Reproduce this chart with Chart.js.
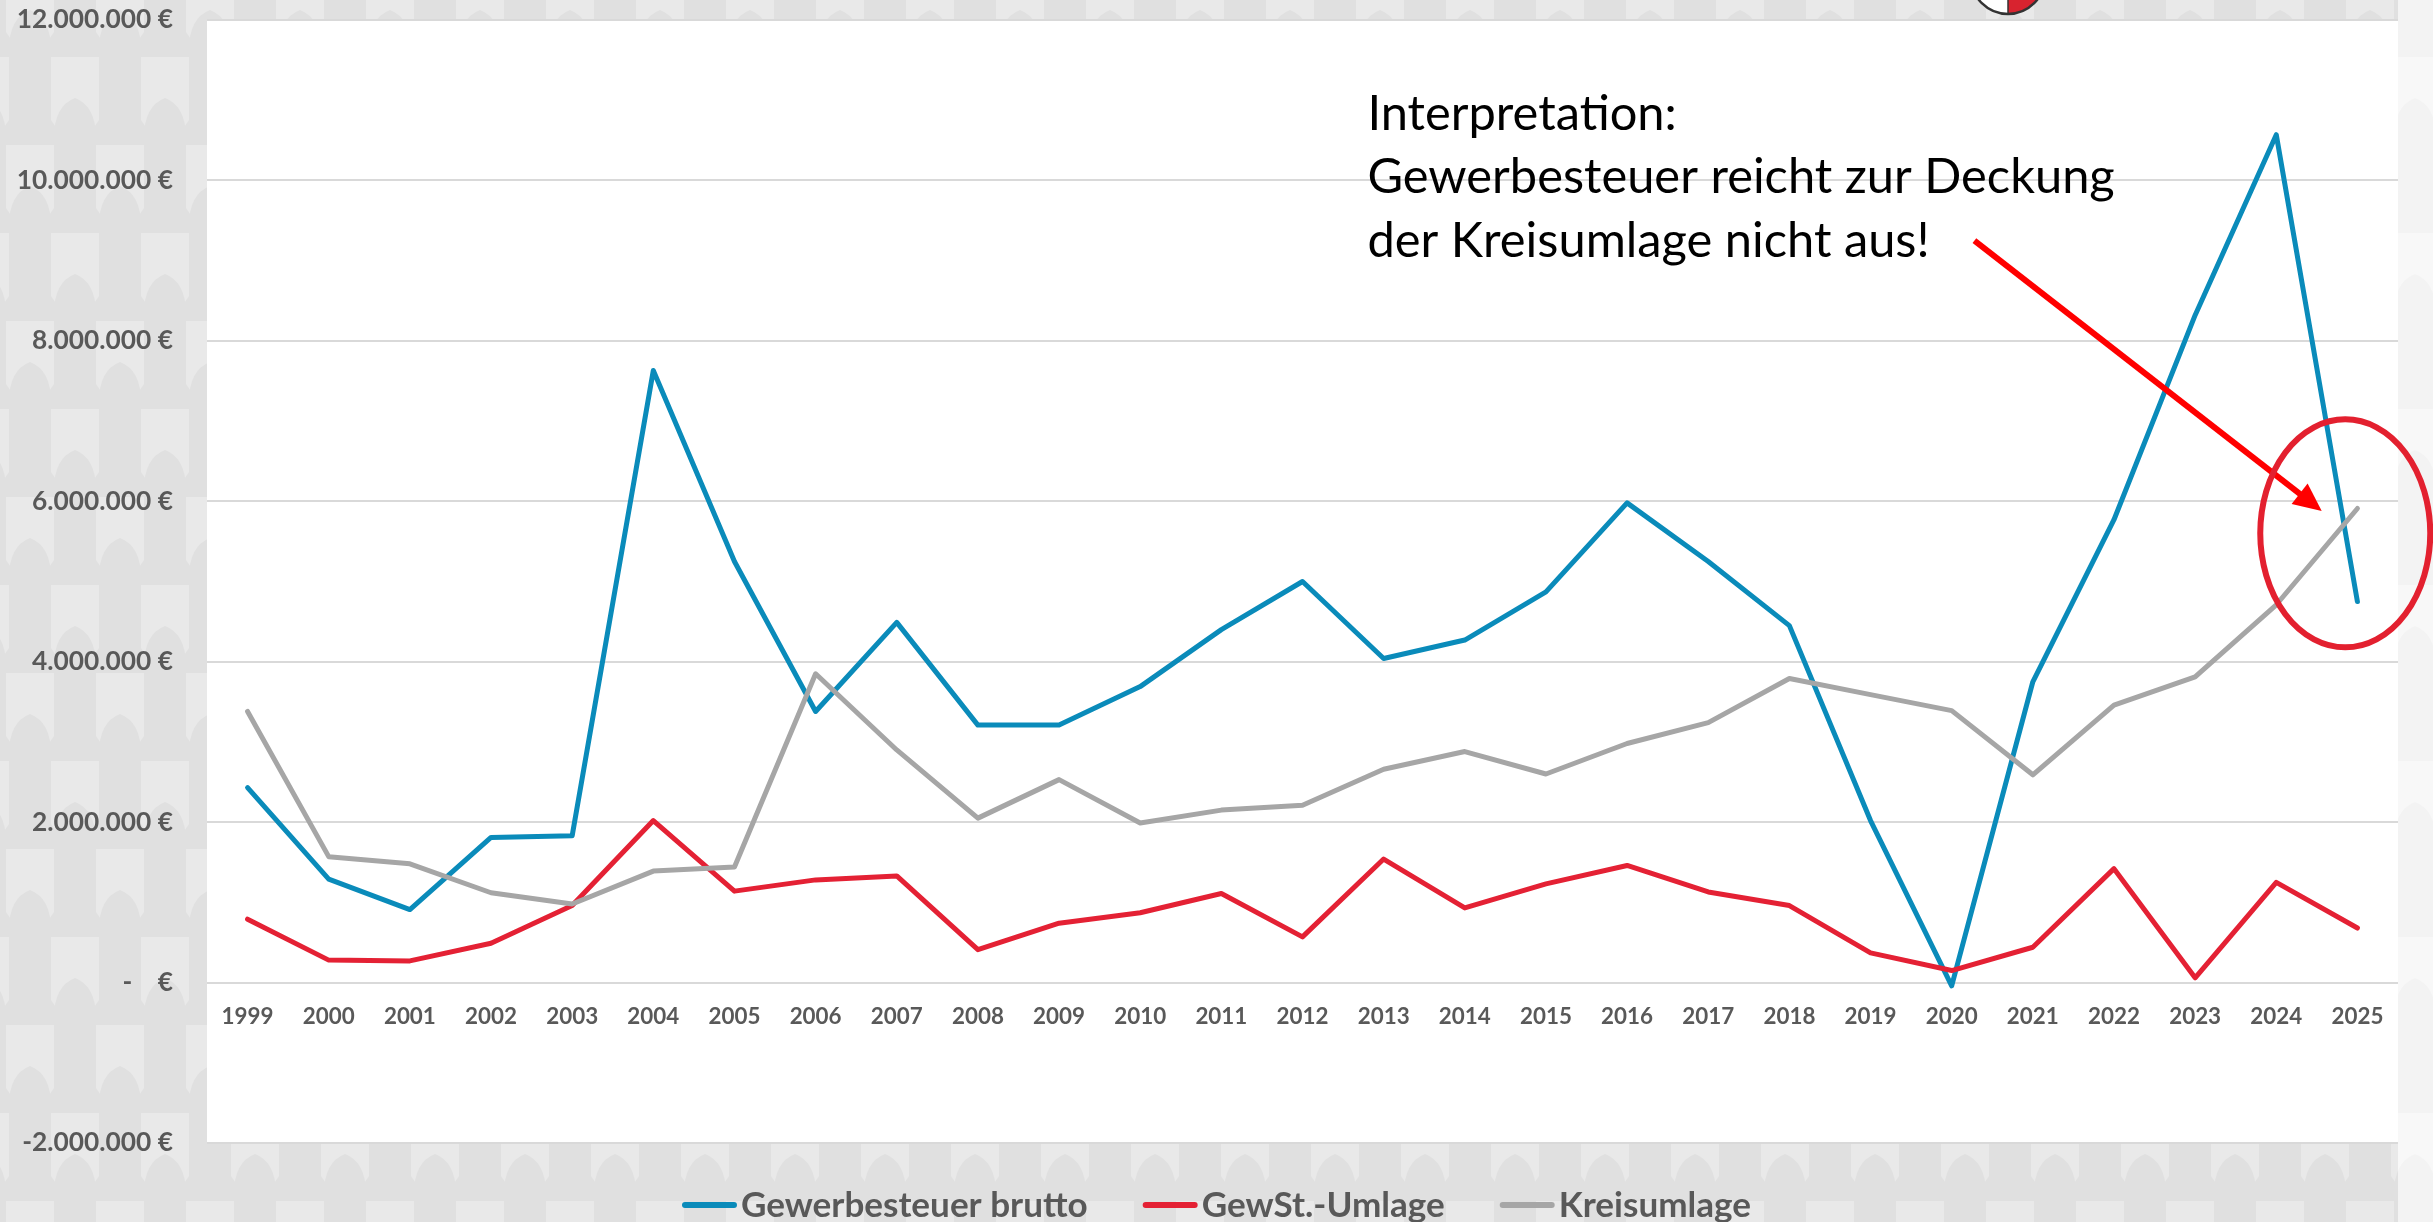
<!DOCTYPE html>
<html>
<head>
<meta charset="utf-8">
<script src="https://cdn.jsdelivr.net/npm/chart.js@4.4.1/dist/chart.umd.min.js"></script>
<style>
  html, body { margin: 0; padding: 0; background: #e6e6e6; }
  #wrap { width: 2433px; height: 1222px; }
</style>
</head>
<body>
<div id="wrap"><canvas id="steuerChart" width="2433" height="1222"></canvas></div>
<script>
// Jahre und Werte in Euro
const years = ['1999', '2000', '2001', '2002', '2003', '2004', '2005', '2006', '2007', '2008',
  '2009', '2010', '2011', '2012', '2013', '2014', '2015', '2016', '2017', '2018',
  '2019', '2020', '2021', '2022', '2023', '2024', '2025'];

const gewerbesteuerBrutto = [2430000, 1290000, 910000, 1810000, 1830000, 7630000, 5250000, 3380000, 4490000, 3210000,
  3210000, 3690000, 4400000, 5000000, 4040000, 4270000, 4870000, 5980000, 5250000, 4450000,
  2020000, -40000, 3750000, 5770000, 8320000, 10570000, 4750000];

const gewStUmlage = [790000, 280000, 270000, 490000, 960000, 2020000, 1140000, 1280000, 1330000, 410000,
  740000, 870000, 1110000, 570000, 1540000, 930000, 1230000, 1460000, 1130000, 960000,
  370000, 150000, 440000, 1420000, 60000, 1250000, 680000];

const kreisumlage = [3380000, 1570000, 1480000, 1120000, 980000, 1390000, 1440000, 3850000, 2900000, 2050000,
  2530000, 1990000, 2150000, 2210000, 2660000, 2880000, 2600000, 2980000, 3240000, 3790000,
  3590000, 3390000, 2590000, 3460000, 3810000, 4710000, 5910000];

const seriesNames = ['Gewerbesteuer brutto', 'GewSt.-Umlage', 'Kreisumlage'];
const seriesColors = ['#0A8BBA', '#E42134', '#A6A6A6'];

const yMin = -2000000;
const yMax = 12000000;
const yStep = 2000000;

const noteLines = ['Interpretation:', 'Gewerbesteuer reicht zur Deckung', 'der Kreisumlage nicht aus!'];

const FONT = "Lato, 'Noto Sans', sans-serif";
const TEXT_GREY = '#595959';

// Calibri gibt es hier nicht: Schriftgröße so wählen, dass die Breite zum Original passt
const measureCtx = document.createElement('canvas').getContext('2d');
function fitFontSize(text, weight, targetWidth) {
  measureCtx.font = weight + ' 100px ' + FONT;
  return Math.round(1000 * targetWidth / measureCtx.measureText(text).width) / 10;
}
const yTickSize = fitFontSize('8.000.000 €', 'bold', 141);
const xTickSize = fitFontSize('1999', 'bold', 52);
const legendSize = fitFontSize('Gewerbesteuer brutto', 'bold', 347);
const noteSize = fitFontSize('Gewerbesteuer reicht zur Deckung', 'normal', 748);

function euro(v) {
  if (v === 0) return '-    €';
  const s = Math.abs(v).toFixed(0).replace(/\B(?=(\d{3})+(?!\d))/g, '.');
  return (v < 0 ? '-' : '') + s + ' €';
}

// grey tiled background like the slide
function makePattern(ctx, base, shade) {
  const tile = document.createElement('canvas');
  tile.width = 90;
  tile.height = 176;
  const t = tile.getContext('2d');
  t.fillStyle = base;
  t.fillRect(0, 0, 90, 176);
  t.fillStyle = shade;
  const bell = (cx, top) => {
    t.beginPath();
    t.moveTo(cx - 21, top + 110);
    t.lineTo(cx - 21, top + 40);
    t.quadraticCurveTo(cx - 21, top + 8, cx, top);
    t.quadraticCurveTo(cx + 21, top + 8, cx + 21, top + 40);
    t.lineTo(cx + 21, top + 110);
    t.lineTo(cx + 38, top + 135);
    t.lineTo(cx - 38, top + 135);
    t.closePath();
    t.fill();
  };
  bell(30, 10);
  bell(75, 98);
  bell(75, -78);
  bell(-15, 98);
  bell(-15, -78);
  return ctx.createPattern(tile, 'repeat');
}

const backdrop = {
  id: 'backdrop',
  beforeDraw(chart) {
    const { ctx, chartArea: a, width, height } = chart;
    ctx.save();
    ctx.fillStyle = makePattern(ctx, '#e9e9e9', '#e0e0e0');
    ctx.fillRect(0, 0, width, height);
    ctx.fillStyle = makePattern(ctx, '#f8f8f8', '#f3f3f3');
    ctx.fillRect(a.right, 0, width - a.right, height);
    ctx.fillStyle = '#ffffff';
    ctx.fillRect(a.left, a.top, a.right - a.left, a.bottom - a.top);
    // Wappen oben rechts (abgeschnitten)
    const wx = 2008, wy = -23, wr = 37;
    ctx.beginPath();
    ctx.arc(wx, wy, wr, 0, Math.PI * 2);
    ctx.fillStyle = '#ffffff';
    ctx.fill();
    ctx.beginPath();
    ctx.moveTo(wx, wy);
    ctx.arc(wx, wy, wr, -Math.PI / 2, Math.PI / 2);
    ctx.fillStyle = '#d8232f';
    ctx.fill();
    ctx.beginPath();
    ctx.arc(wx, wy, wr, 0, Math.PI * 2);
    ctx.lineWidth = 2.5;
    ctx.strokeStyle = '#333333';
    ctx.stroke();
    ctx.beginPath();
    ctx.moveTo(wx, wy);
    ctx.lineTo(wx, wy + wr);
    ctx.lineWidth = 1.5;
    ctx.stroke();
    ctx.restore();
  }
};

const annotation = {
  id: 'annotation',
  afterDatasetsDraw(chart) {
    const { ctx, scales: { x, y } } = chart;
    ctx.save();
    // Text
    ctx.fillStyle = '#000000';
    ctx.font = noteSize + 'px ' + FONT;
    ctx.textBaseline = 'alphabetic';
    ctx.textAlign = 'left';
    const tx = x.getPixelForValue(13.8);
    const baselines = [10630000, 9840000, 9050000];
    noteLines.forEach((line, i) => ctx.fillText(line, tx, y.getPixelForValue(baselines[i])));

    // Pfeil
    const x0 = x.getPixelForValue(21.28), y0 = y.getPixelForValue(9250000);
    const x1 = x.getPixelForValue(25.56), y1 = y.getPixelForValue(5880000);
    const ang = Math.atan2(y1 - y0, x1 - x0);
    const head = 28, half = 13;
    ctx.strokeStyle = '#ff0000';
    ctx.fillStyle = '#ff0000';
    ctx.lineWidth = 6;
    ctx.beginPath();
    ctx.moveTo(x0, y0);
    ctx.lineTo(x1 - Math.cos(ang) * head * 0.8, y1 - Math.sin(ang) * head * 0.8);
    ctx.stroke();
    ctx.beginPath();
    ctx.moveTo(x1, y1);
    ctx.lineTo(x1 - Math.cos(ang) * head - Math.sin(ang) * half, y1 - Math.sin(ang) * head + Math.cos(ang) * half);
    ctx.lineTo(x1 - Math.cos(ang) * head + Math.sin(ang) * half, y1 - Math.sin(ang) * head - Math.cos(ang) * half);
    ctx.closePath();
    ctx.fill();

    // Ellipse
    ctx.strokeStyle = '#e3202f';
    ctx.lineWidth = 6;
    ctx.beginPath();
    ctx.ellipse(x.getPixelForValue(25.85), y.getPixelForValue(5600000), 85, 114, 0, 0, Math.PI * 2);
    ctx.stroke();
    ctx.restore();
  }
};

const legendBand = {
  id: 'legendBand',
  afterDraw(chart) {
    const { ctx, width } = chart;
    const lineLen = 55, gap = 4, itemGap = 55, cy = 1205;
    ctx.save();
    ctx.font = 'bold ' + legendSize + 'px ' + FONT;
    ctx.textBaseline = 'middle';
    const widths = chart.data.datasets.map(d => ctx.measureText(d.label).width);
    const total = widths.reduce((s, w) => s + lineLen + gap + w, 0) + itemGap * (widths.length - 1);
    let cx = width / 2 - total / 2;
    chart.data.datasets.forEach((d, i) => {
      ctx.strokeStyle = d.borderColor;
      ctx.lineWidth = 6;
      ctx.lineCap = 'round';
      ctx.beginPath();
      ctx.moveTo(cx + 3, cy);
      ctx.lineTo(cx + lineLen - 3, cy);
      ctx.stroke();
      ctx.fillStyle = TEXT_GREY;
      ctx.fillText(d.label, cx + lineLen + gap, cy + 1);
      cx += lineLen + gap + widths[i] + itemGap;
    });
    ctx.restore();
  }
};

const ctx = document.getElementById('steuerChart').getContext('2d');
new Chart(ctx, {
  type: 'line',
  data: {
    labels: years,
    datasets: [
      { label: seriesNames[0], data: gewerbesteuerBrutto, borderColor: seriesColors[0], order: 3 },
      { label: seriesNames[1], data: gewStUmlage, borderColor: seriesColors[1], order: 2 },
      { label: seriesNames[2], data: kreisumlage, borderColor: seriesColors[2], order: 1 }
    ]
  },
  options: {
    responsive: false,
    animation: false,
    devicePixelRatio: 1,
    layout: { padding: { top: 20, right: 35, bottom: 79, left: 0 } },
    elements: {
      point: { radius: 0, hoverRadius: 0 },
      line: { tension: 0, borderWidth: 5, borderCapStyle: 'round', borderJoinStyle: 'round', fill: false }
    },
    plugins: {
      legend: { display: false },
      tooltip: { enabled: false }
    },
    scales: {
      x: {
        type: 'category',
        position: { y: 0 },
        offset: true,
        grid: { display: false, drawTicks: false },
        border: { display: false },
        ticks: {
          autoSkip: false,
          maxRotation: 0,
          padding: 21,
          color: TEXT_GREY,
          font: { family: FONT, size: xTickSize, weight: 'bold' }
        },
        afterFit: (scale) => { scale.paddingLeft = 0; scale.paddingRight = 0; }
      },
      y: {
        min: yMin,
        max: yMax,
        grid: { color: '#d9d9d9', lineWidth: 2, drawTicks: false },
        border: { display: false },
        ticks: {
          stepSize: yStep,
          padding: 34,
          color: TEXT_GREY,
          font: { family: FONT, size: yTickSize, weight: 'bold' },
          callback: (v) => euro(v)
        },
        afterFit: (scale) => {
          scale.width = 207;
          scale.paddingTop = 0;
          scale.paddingBottom = 0;
        }
      }
    }
  },
  plugins: [backdrop, annotation, legendBand]
});
</script>
</body>
</html>
